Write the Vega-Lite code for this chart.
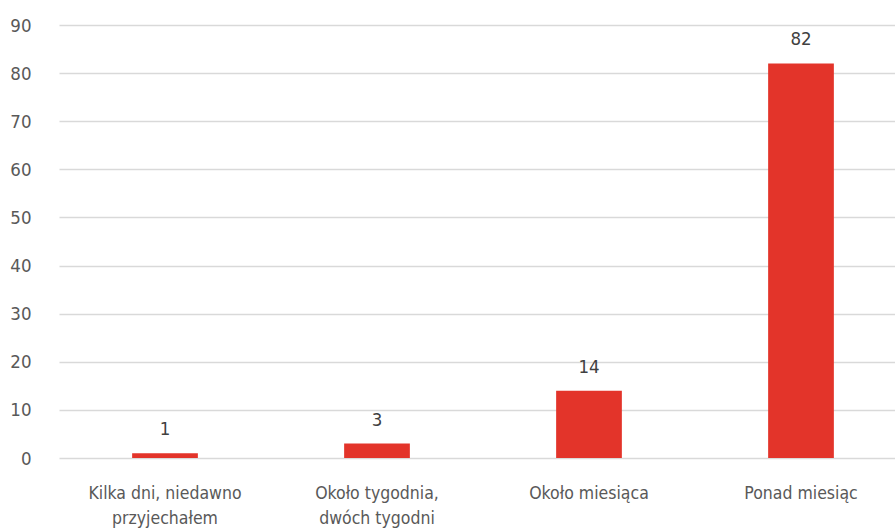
{
  "$schema": "https://vega.github.io/schema/vega-lite/v6.json",
  "width": 848,
  "height": 433,
  "autosize": {"type": "none"},
  "padding": {"left": 59, "top": 25, "right": 0, "bottom": 72},
  "background": "white",
  "config": {
    "view": {"stroke": null},
    "font": "DejaVu Sans Condensed, Roboto, sans-serif"
  },
  "data": {
    "values": [
      {"category": "Kilka dni, niedawno przyjechałem", "value": 1},
      {"category": "Około tygodnia, dwóch tygodni", "value": 3},
      {"category": "Około miesiąca", "value": 14},
      {"category": "Ponad miesiąc", "value": 82}
    ]
  },
  "encoding": {
    "x": {
      "field": "category",
      "type": "nominal",
      "sort": null,
      "scale": {"paddingInner": 0.69, "paddingOuter": 0.345},
      "axis": {
        "title": null,
        "labelAngle": 0,
        "domain": false,
        "ticks": false,
        "labelPadding": 26,
        "labelFontSize": 17.5,
        "labelColor": "#595959",
        "labelFont": "DejaVu Sans Condensed, Roboto, sans-serif",
        "labelLineHeight": 25,
        "labelBaseline": "top",
        "labelExpr": "datum.value == 'Kilka dni, niedawno przyjechałem' ? ['Kilka dni, niedawno', 'przyjechałem'] : datum.value == 'Około tygodnia, dwóch tygodni' ? ['Około tygodnia,', 'dwóch tygodni'] : datum.value"
      }
    },
    "y": {
      "field": "value",
      "type": "quantitative",
      "scale": {"domain": [0, 90], "nice": false},
      "axis": {
        "title": null,
        "values": [0, 10, 20, 30, 40, 50, 60, 70, 80, 90],
        "domain": false,
        "ticks": false,
        "labelPadding": 28,
        "labelFontSize": 18.5,
        "labelColor": "#595959",
        "labelFont": "DejaVu Sans Condensed, Roboto, sans-serif",
        "gridColor": "#d9d9d9",
        "gridWidth": 1.5
      }
    }
  },
  "layer": [
    {"mark": {"type": "bar", "color": "#E3342A"}},
    {
      "mark": {"type": "text", "dy": -18, "fontSize": 18.5, "color": "#404040", "font": "DejaVu Sans Condensed, Roboto, sans-serif", "baseline": "alphabetic"},
      "encoding": {"text": {"field": "value", "type": "quantitative"}}
    }
  ]
}
